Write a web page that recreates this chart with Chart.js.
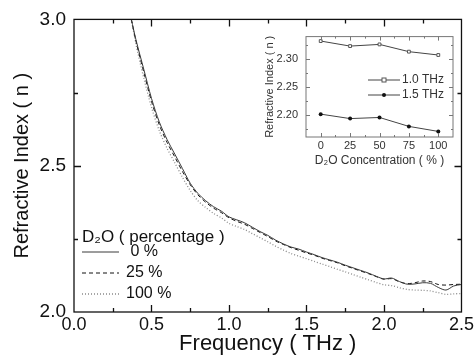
<!DOCTYPE html>
<html>
<head>
<meta charset="utf-8">
<script src="https://cdn.jsdelivr.net/npm/chart.js@4"></script>
<style>
  body { margin: 0; background: #fff; }
  #wrap { position: relative; width: 476px; height: 362px; }
  #main { position: absolute; left: 0; top: 0; }
  #inset { position: absolute; left: 258px; top: 22px; }
</style>
</head>
<body>
<div id="wrap">
  <canvas id="main" width="476" height="362"></canvas>
  <canvas id="inset" width="200" height="150"></canvas>
</div>
<script>
// main plot: refractive index vs frequency
const freq = [0.37, 0.40, 0.45, 0.50, 0.55, 0.60, 0.65, 0.70, 0.75, 0.80, 0.85, 0.90, 0.95, 1.00,
  1.05, 1.10, 1.15, 1.20, 1.25, 1.30, 1.35, 1.40, 1.45, 1.50, 1.55, 1.60, 1.65, 1.70, 1.75, 1.80,
  1.85, 1.90, 1.95, 2.00, 2.05, 2.10, 2.15, 2.20, 2.25, 2.30, 2.35, 2.40, 2.45, 2.50];
const n0 = [3.00, 2.93, 2.83, 2.73, 2.65, 2.59, 2.54, 2.49, 2.44, 2.405, 2.38, 2.36, 2.345, 2.325,
  2.315, 2.305, 2.29, 2.275, 2.262, 2.246, 2.233, 2.222, 2.215, 2.205, 2.196, 2.186, 2.178, 2.170, 2.160, 2.151,
  2.142, 2.133, 2.122, 2.113, 2.116, 2.104, 2.095, 2.096, 2.100, 2.098, 2.084, 2.075, 2.089, 2.094];
const n25 = [3.00, 2.925, 2.82, 2.72, 2.64, 2.58, 2.53, 2.48, 2.435, 2.40, 2.375, 2.355, 2.34, 2.322,
  2.31, 2.30, 2.286, 2.272, 2.258, 2.243, 2.231, 2.22, 2.211, 2.202, 2.194, 2.184, 2.176, 2.168, 2.158, 2.149,
  2.140, 2.131, 2.121, 2.112, 2.114, 2.103, 2.097, 2.100, 2.106, 2.104, 2.094, 2.092, 2.094, 2.095];
const n100 = [3.00, 2.915, 2.80, 2.70, 2.62, 2.56, 2.51, 2.46, 2.415, 2.38, 2.357, 2.337, 2.322, 2.303,
  2.292, 2.282, 2.268, 2.254, 2.240, 2.225, 2.212, 2.200, 2.191, 2.182, 2.173, 2.164, 2.155, 2.146, 2.137, 2.128,
  2.119, 2.110, 2.101, 2.093, 2.090, 2.083, 2.077, 2.075, 2.074, 2.072, 2.066, 2.060, 2.062, 2.063];
const seriesLabels = [' 0 %', '25 %', '100 %'];
const xTicks = [0.0, 0.5, 1.0, 1.5, 2.0, 2.5];
const yTicks = [2.0, 2.5, 3.0];

// inset: refractive index vs D2O concentration
const conc = [0, 25, 50, 75, 100];
const n1THz = [2.332, 2.323, 2.326, 2.313, 2.307];
const n15THz = [2.201, 2.193, 2.195, 2.179, 2.170];
const insetLabels = ['1.0 THz', '1.5 THz'];
const insetXTicks = [0, 25, 50, 75, 100];
const insetYTicks = [2.20, 2.25, 2.30];

const FONT = '"Liberation Sans", Arial, sans-serif';
const pts = ys => freq.map((f, i) => ({x: f, y: ys[i]}));

// box frame with inward ticks on all four sides
const frameTicks = {
  id: 'frameTicks',
  afterDraw(chart, args, o) {
    const {ctx, chartArea: a, scales: {x, y}} = chart;
    ctx.save();
    ctx.strokeStyle = o.color;
    ctx.lineWidth = o.width;
    ctx.strokeRect(a.left, a.top, a.right - a.left, a.bottom - a.top);
    ctx.beginPath();
    const isMajor = (v, m) => Math.abs(v / m - Math.round(v / m)) < 1e-6;
    for (let v = Math.ceil(x.min / o.xMinor) * o.xMinor; v <= x.max + 1e-9; v += o.xMinor) {
      const px = Math.round(x.getPixelForValue(v)) + 0.5;
      if (px < a.left + 2 || px > a.right - 2) continue;
      const len = isMajor(v, o.xMajor) ? o.major : o.minor;
      ctx.moveTo(px, a.bottom); ctx.lineTo(px, a.bottom - len);
      ctx.moveTo(px, a.top); ctx.lineTo(px, a.top + len);
    }
    for (let v = Math.ceil(y.min / o.yMinor - 1e-6) * o.yMinor; v <= y.max + 1e-9; v += o.yMinor) {
      const py = Math.round(y.getPixelForValue(v)) + 0.5;
      if (py < a.top + 2 || py > a.bottom - 2) continue;
      const len = isMajor(v, o.yMajor) ? o.major : o.minor;
      ctx.moveTo(a.left, py); ctx.lineTo(a.left + len, py);
      ctx.moveTo(a.right, py); ctx.lineTo(a.right - len, py);
    }
    ctx.stroke();
    ctx.restore();
  }
};

// legend drawn as line samples + labels inside the plot
const lineLegend = {
  id: 'lineLegend',
  afterDraw(chart, args, o) {
    const {ctx} = chart;
    ctx.save();
    ctx.fillStyle = o.color;
    ctx.textBaseline = 'middle';
    ctx.textAlign = 'left';
    if (o.title) {
      ctx.font = o.font;
      ctx.fillText(o.title, o.x, o.y);
    }
    chart.data.datasets.forEach((ds, i) => {
      const yy = o.y + (o.title ? o.titleGap : 0) + i * o.gap;
      ctx.strokeStyle = ds.borderColor;
      ctx.lineWidth = ds.borderWidth;
      ctx.setLineDash(ds.borderDash || []);
      ctx.beginPath();
      ctx.moveTo(o.x, yy); ctx.lineTo(o.x + o.len, yy);
      ctx.stroke();
      ctx.setLineDash([]);
      if (o.markers) {
        const cx = o.x + o.len / 2, r = ds.pointRadius;
        ctx.beginPath();
        if (ds.pointStyle === 'rect') {
          ctx.fillStyle = ds.pointBackgroundColor;
          ctx.fillRect(cx - r, yy - r, 2 * r, 2 * r);
          ctx.strokeStyle = ds.pointBorderColor;
          ctx.strokeRect(cx - r, yy - r, 2 * r, 2 * r);
        } else {
          ctx.fillStyle = ds.pointBackgroundColor;
          ctx.arc(cx, yy, r, 0, Math.PI * 2);
          ctx.fill();
        }
      }
      ctx.fillStyle = o.color;
      ctx.font = o.itemFont;
      ctx.fillText(ds.label, o.x + o.len + o.textGap, yy);
    });
    ctx.restore();
  }
};

new Chart(document.getElementById('main'), {
  type: 'line',
  data: {
    datasets: [
      {label: seriesLabels[0], data: pts(n0), borderColor: '#3a3a3a', borderWidth: 1, borderDash: []},
      {label: seriesLabels[1], data: pts(n25), borderColor: '#111', borderWidth: 1, borderDash: [4, 3]},
      {label: seriesLabels[2], data: pts(n100), borderColor: '#8a8a8a', borderWidth: 1.3, borderDash: [1, 2]}
    ]
  },
  options: {
    responsive: false,
    devicePixelRatio: 1,
    animation: false,
    elements: {point: {radius: 0}, line: {tension: 0.3}},
    layout: {padding: {left: 0, right: 13, top: 15, bottom: 0}},
    plugins: {
      legend: {display: false},
      tooltip: {enabled: false},
      frameTicks: {color: '#111', width: 1.3, xMinor: 0.25, xMajor: 0.5, yMinor: 0.25, yMajor: 0.5, major: 7, minor: 4},
      lineLegend: {x: 82, y: 237, titleGap: 15, gap: 21, len: 37, textGap: 7, color: '#111',
        title: 'D\u2082O ( percentage )', font: '17px ' + FONT, itemFont: '16px ' + FONT}
    },
    scales: {
      x: {
        type: 'linear', min: 0, max: 2.5,
        grid: {display: false, drawTicks: false}, border: {display: false},
        afterBuildTicks: s => { s.ticks = xTicks.map(v => ({value: v})); },
        afterFit: s => { s.height = 50; },
        ticks: {padding: 2, color: '#111', font: {family: FONT, size: 18}, callback: v => v.toFixed(1)},
        title: {display: true, text: 'Frequency ( THz )', color: '#111', font: {family: FONT, size: 22}, padding: {top: 0, bottom: 5}}
      },
      y: {
        min: 2.0, max: 3.0,
        grid: {display: false, drawTicks: false}, border: {display: false},
        afterBuildTicks: s => { s.ticks = yTicks.map(v => ({value: v})); },
        afterFit: s => { s.width = 74; },
        ticks: {padding: 8, color: '#111', font: {family: FONT, size: 19}, callback: v => v.toFixed(1)},
        title: {display: true, text: 'Refractive Index ( n )', color: '#111', font: {family: FONT, size: 20}, padding: {top: 10, bottom: 0}}
      }
    }
  },
  plugins: [frameTicks, lineLegend]
});

new Chart(document.getElementById('inset'), {
  type: 'line',
  data: {
    labels: conc,
    datasets: [
      {label: insetLabels[0], data: conc.map((c, i) => ({x: c, y: n1THz[i]})), borderColor: '#444', borderWidth: 1,
        pointStyle: 'rect', pointRadius: 2, pointBackgroundColor: '#fff', pointBorderColor: '#555', pointBorderWidth: 1},
      {label: insetLabels[1], data: conc.map((c, i) => ({x: c, y: n15THz[i]})), borderColor: '#444', borderWidth: 1,
        pointStyle: 'circle', pointRadius: 2, pointBackgroundColor: '#111', pointBorderColor: '#111', pointBorderWidth: 0}
    ]
  },
  options: {
    responsive: false,
    devicePixelRatio: 1,
    animation: false,
    layout: {padding: {left: 0, right: 5, top: 10, bottom: 0}},
    plugins: {
      legend: {display: false},
      tooltip: {enabled: false},
      frameTicks: {color: '#777', width: 1, xMinor: 12.5, xMajor: 25, yMinor: 0.025, yMajor: 0.05, major: 4, minor: 2},
      lineLegend: {x: 110, y: 58, titleGap: 0, gap: 15, len: 32, textGap: 2, color: '#333', markers: true,
        itemFont: '12px ' + FONT}
    },
    scales: {
      x: {
        type: 'linear', min: -12.5, max: 112.5,
        grid: {display: false, drawTicks: false}, border: {display: false},
        afterBuildTicks: s => { s.ticks = insetXTicks.map(v => ({value: v})); },
        afterFit: s => { s.height = 35; },
        ticks: {padding: 2, color: '#333', font: {family: FONT, size: 11}},
        title: {display: true, text: 'D\u2082O Concentration ( % )', color: '#333', font: {family: FONT, size: 12}, padding: {top: 0, bottom: 4}}
      },
      y: {
        min: 2.16, max: 2.34,
        grid: {display: false, drawTicks: false}, border: {display: false},
        afterBuildTicks: s => { s.ticks = insetYTicks.map(v => ({value: v})); },
        afterFit: s => { s.width = 48; },
        ticks: {padding: 8, color: '#333', font: {family: FONT, size: 11}, callback: v => v.toFixed(2)},
        title: {display: true, text: 'Refractive Index ( n )', color: '#333', font: {family: FONT, size: 11}, padding: {top: 5, bottom: 0}}
      }
    }
  },
  plugins: [frameTicks, lineLegend]
});
</script>
</body>
</html>
